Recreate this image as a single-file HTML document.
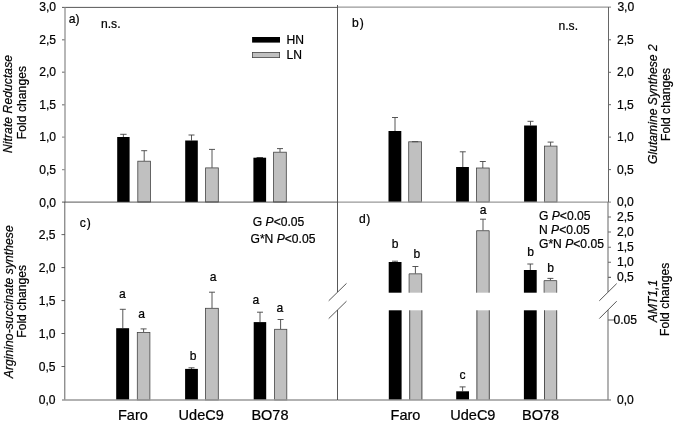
<!DOCTYPE html>
<html>
<head>
<meta charset="utf-8">
<title>Fold changes</title>
<style>
html,body{margin:0;padding:0;background:#fff;}
body{width:675px;height:423px;overflow:hidden;font-family:"Liberation Sans",sans-serif;}
svg{display:block;will-change:transform;}
text{font-family:"Liberation Sans",sans-serif;fill:#000;stroke:#000;stroke-width:0.22px;}
.t{font-size:12.1px;}
.c{font-size:14.5px;}
.i{font-style:italic;}
.bk{fill:#000;}
.gr{fill:#c0c0c0;stroke:#444;stroke-width:0.8;}
.go{stroke:#444;stroke-width:0.8;fill:none;}
.eb{stroke:#444;stroke-width:0.9;fill:none;}
.dk{stroke:#444;stroke-width:0.9;fill:none;}
.lg{stroke:#999;stroke-width:1.4;fill:none;}
.mg{stroke:#666;stroke-width:1;fill:none;}
</style>
</head>
<body>
<svg width="675" height="423" viewBox="0 0 675 423">
<rect width="675" height="423" fill="#fff"/>

<!-- ===== tick labels left ===== -->
<g class="t" text-anchor="end">
  <text x="56" y="11.1">3,0</text>
  <text x="56" y="44">2,5</text>
  <text x="56" y="75.6">2,0</text>
  <text x="56" y="108.6">1,5</text>
  <text x="56" y="141.3">1,0</text>
  <text x="56" y="173.8">0,5</text>
  <text x="56" y="206.5">0,0</text>
  <text x="55.5" y="238.8">2,5</text>
  <text x="55.5" y="271.8">2,0</text>
  <text x="55.5" y="304.8">1,5</text>
  <text x="55.5" y="337.8">1,0</text>
  <text x="55.5" y="370.8">0,5</text>
  <text x="55.5" y="404.2">0,0</text>
</g>
<!-- ===== tick labels right ===== -->
<g class="t">
  <text x="617.4" y="11.1">3,0</text>
  <text x="617" y="44">2,5</text>
  <text x="617" y="75.6">2,0</text>
  <text x="617" y="108.6">1,5</text>
  <text x="617" y="141.3">1,0</text>
  <text x="617" y="173.8">0,5</text>
  <text x="617" y="206.1">0,0</text>
  <text x="617" y="221.2">2,5</text>
  <text x="617" y="235.6">2,0</text>
  <text x="617" y="251.1">1,5</text>
  <text x="617" y="266.1">1,0</text>
  <text x="617" y="281.2">0,5</text>
  <text x="613.5" y="324.2">0.05</text>
  <text x="617" y="404.2">0,0</text>
</g>

<!-- ===== axis titles ===== -->
<g class="t" text-anchor="middle">
  <text class="i" textLength="98" transform="translate(12.4,104) rotate(-90)">Nitrate Reductase</text>
  <text textLength="73.3" transform="translate(26,102.6) rotate(-90)">Fold changes</text>
  <text class="i" textLength="152.9" transform="translate(12.5,301.8) rotate(-90)">Arginino-succinate synthese</text>
  <text textLength="72.9" transform="translate(26,301.3) rotate(-90)">Fold changes</text>
  <text class="i" textLength="119.7" transform="translate(657,104.2) rotate(-90)">Glutamine Synthese 2</text>
  <text textLength="73" transform="translate(670,104.5) rotate(-90)">Fold changes</text>
  <text class="i" transform="translate(656.5,301) rotate(-90)">AMT1,1</text>
  <text textLength="73.2" transform="translate(669.3,299.3) rotate(-90)">Fold changes</text>
</g>

<!-- ===== panel a ===== -->
<g id="pa">
  <text class="t" x="68.7" y="22.9">a)</text>
  <text class="t" x="101" y="27.8">n.s.</text>
  <rect class="bk" x="252.1" y="37" width="27.9" height="5.6"/>
  <rect class="gr" x="252.4" y="52.4" width="27.2" height="5.2"/>
  <text class="t" x="286.5" y="44.2">HN</text>
  <text class="t" x="286.5" y="59.2">LN</text>

  <path class="eb" d="M123.4 137V134.3M120.2 134.3H126.6"/>
  <rect class="bk" x="117.2" y="137" width="12.4" height="65"/>
  <path class="eb" d="M144.2 161V150.7M141.2 150.7H147.2"/>
  <rect class="gr" x="137.8" y="161.2" width="12.6" height="40.8"/>

  <path class="eb" d="M191.5 140.5V135M188.5 135H194.5"/>
  <rect class="bk" x="185.2" y="140.5" width="12.6" height="61.5"/>
  <path class="eb" d="M212 167.8V149.4M209 149.4H215"/>
  <rect class="gr" x="205.6" y="167.9" width="12.7" height="34.1"/>

  <path class="eb" d="M256.6 157.5H263"/>
  <rect class="bk" x="253.4" y="157.7" width="12.7" height="44.3"/>
  <path class="eb" d="M280 152V148.6M277 148.6H283"/>
  <rect class="gr" x="273.6" y="152.2" width="12.7" height="49.8"/>
</g>

<!-- ===== panel b ===== -->
<g id="pb">
  <text class="t" x="352" y="26.7">b<tspan dx="1.1">)</tspan></text>
  <text class="t" x="558.5" y="29.5">n.s.</text>

  <path class="eb" d="M395 131V117.5M392 117.5H398"/>
  <rect class="bk" x="388.5" y="131" width="12.8" height="71"/>
  <rect class="gr" x="408.7" y="141.8" width="12.8" height="60.2"/>
  <path class="eb" d="M412 141.7H418.2"/>

  <path class="eb" d="M462.8 167V151.8M459.8 151.8H465.8"/>
  <rect class="bk" x="456.1" y="167" width="12.8" height="35"/>
  <path class="eb" d="M482.8 168V161.5M479.8 161.5H485.8"/>
  <rect class="gr" x="476.4" y="168" width="12.8" height="34"/>

  <path class="eb" d="M530.5 125.5V121.3M527.5 121.3H533.5"/>
  <rect class="bk" x="524.1" y="125.5" width="12.8" height="76.5"/>
  <path class="eb" d="M550.6 146V142.1M547.6 142.1H553.6"/>
  <rect class="gr" x="544.4" y="146.1" width="12.6" height="55.9"/>
</g>

<!-- ===== panel c ===== -->
<g id="pc">
  <text class="t" x="79.8" y="227.2">c<tspan dx="1">)</tspan></text>
  <text class="t" x="252.8" y="225.6">G <tspan class="i">P</tspan>&lt;0.05</text>
  <text class="t" x="250.5" y="243.4">G*N <tspan class="i">P</tspan>&lt;0.05</text>

  <path class="eb" d="M122.8 328V309.3M119.8 309.3H125.8"/>
  <rect class="bk" x="116.2" y="328.2" width="12.9" height="71.8"/>
  <path class="eb" d="M143.6 332V328.9M140.6 328.9H146.6"/>
  <rect class="gr" x="137.3" y="332.5" width="12.6" height="67.5"/>
  <text class="t" x="119.1" y="298">a</text>
  <text class="t" x="138.3" y="318">a</text>

  <path class="eb" d="M191.5 369V367.8M188.5 367.8H194.5"/>
  <rect class="bk" x="185.1" y="368.9" width="12.8" height="31.1"/>
  <path class="eb" d="M212 308V292.2M209 292.2H215"/>
  <rect class="gr" x="205.5" y="308.3" width="12.8" height="91.7"/>
  <text class="t" x="189.8" y="359.6">b</text>
  <text class="t" x="209.8" y="281.4">a</text>

  <path class="eb" d="M260 322V312.2M257 312.2H263"/>
  <rect class="bk" x="253.7" y="322.1" width="12.5" height="77.9"/>
  <path class="eb" d="M280.6 329V319.5M277.6 319.5H283.6"/>
  <rect class="gr" x="274.6" y="329.3" width="12.2" height="70.7"/>
  <text class="t" x="252.5" y="303.8">a</text>
  <text class="t" x="276.6" y="311.9">a</text>

  <text class="c" x="118" y="420">Faro</text>
  <text class="c" x="178.6" y="420">UdeC9</text>
  <text class="c" x="251.4" y="420">BO78</text>
</g>

<!-- ===== panel d ===== -->
<g id="pd">
  <text class="t" x="358.9" y="223">d<tspan dx="0.6">)</tspan></text>
  <text class="t" x="539" y="220">G <tspan class="i">P</tspan>&lt;0.05</text>
  <text class="t" x="539" y="234.1">N <tspan class="i">P</tspan>&lt;0.05</text>
  <text class="t" x="539" y="247.5">G*N <tspan class="i">P</tspan>&lt;0.05</text>

  <!-- upper segment -->
  <path class="eb" d="M395 262V261.2M392 261.2H398"/>
  <rect class="bk" x="388.7" y="262" width="12.8" height="30.7"/>
  <path class="eb" d="M415.4 273.6V266.5M412.4 266.5H418.4"/>
  <rect fill="#c0c0c0" x="409.1" y="273.8" width="12.6" height="18.899999999999977"/><path class="go" d="M409.1 292.7V273.8H421.70000000000005V292.7"/>
  <text class="t" x="391.7" y="247.9">b</text>
  <text class="t" x="413.6" y="257.6">b</text>

  <path class="eb" d="M483 230.5V219.2M480 219.2H486"/>
  <rect fill="#c0c0c0" x="476.6" y="230.7" width="12.6" height="62.0"/><path class="go" d="M476.6 292.7V230.7H489.20000000000005V292.7"/>
  <text class="t" x="479.8" y="214.1">a</text>

  <path class="eb" d="M530.3 270V264M527.3 264H533.3"/>
  <rect class="bk" x="523.9" y="270" width="12.8" height="22.7"/>
  <path class="eb" d="M550.4 280.4V278.4M547.4 278.4H553.4"/>
  <rect fill="#c0c0c0" x="544.1" y="280.6" width="12.6" height="12.099999999999966"/><path class="go" d="M544.1 292.7V280.6H556.7V292.7"/>
  <text class="t" x="527.2" y="255.7">b</text>
  <text class="t" x="547.3" y="271.6">b</text>

  <!-- lower segment -->
  <rect class="bk" x="388.8" y="310.3" width="12.8" height="89.7"/>
  <rect fill="#c0c0c0" x="409.4" y="310.3" width="12.8" height="89.7"/>
  <path class="eb" d="M409.7 310.3V400M421.9 310.3V400"/>
  <path class="eb" d="M462.6 391.3V386.9M459.6 386.9H465.6"/>
  <rect class="bk" x="456.2" y="391.3" width="12.8" height="8.7"/>
  <text class="t" x="459.4" y="378.5">c</text>
  <rect fill="#c0c0c0" x="476.6" y="310.3" width="13" height="89.7"/>
  <path class="eb" d="M476.9 310.3V400M489.3 310.3V400"/>
  <rect class="bk" x="523.9" y="310.3" width="12.8" height="89.7"/>
  <rect fill="#c0c0c0" x="544.2" y="310.3" width="12.8" height="89.7"/>
  <path class="eb" d="M544.5 310.3V400M556.7 310.3V400"/>

  <text class="c" x="390.6" y="419.9">Faro</text>
  <text class="c" x="450.3" y="419.9">UdeC9</text>
  <text class="c" x="522" y="419.9">BO78</text>
</g>
<!-- ===== frame lines ===== -->
<g id="frame">
  <!-- top line left (dark) and right (light) -->
  <line class="dk" x1="62" y1="7.4" x2="337.5" y2="7.4"/>
  <line class="lg" x1="337.5" y1="7.1" x2="611" y2="7.1"/>
  <!-- left axis -->
  <line class="lg" x1="65" y1="7.4" x2="65" y2="202"/>
  <line x1="64.8" y1="202" x2="64.8" y2="400" style="stroke:#5a5a5a;stroke-width:0.95"/>
  <!-- middle horizontal -->
  <line class="dk" x1="62" y1="202.1" x2="337.5" y2="202.1"/>
  <line class="lg" x1="337.5" y1="202.1" x2="611" y2="202.1"/>
  <!-- bottom axis -->
  <line class="lg" x1="62" y1="400" x2="337.5" y2="400"/>
  <line class="lg" x1="337.5" y1="400" x2="611" y2="400"/>
  <!-- divider -->
  <line class="dk" x1="337.5" y1="5" x2="337.5" y2="292"/>
  <line class="dk" x1="337.5" y1="310" x2="337.5" y2="400"/>
  <!-- right axis -->
  <line class="mg" x1="608.5" y1="7" x2="608.5" y2="202"/>
  <line x1="608" y1="202" x2="608" y2="292" style="stroke:#7a7a7a;stroke-width:1.15"/>
  <line x1="608" y1="310" x2="608" y2="400" style="stroke:#7a7a7a;stroke-width:1.15"/>
  <!-- breaks -->
  <line class="dk" x1="328.7" y1="300.8" x2="346.5" y2="283.4"/>
  <line class="dk" x1="328.7" y1="318.6" x2="346.5" y2="301.2"/>
  <line class="dk" x1="599.3" y1="300.8" x2="616.7" y2="283.6"/>
  <line class="dk" x1="599.3" y1="318.6" x2="616.7" y2="301.2"/>
</g>

<!-- ===== ticks ===== -->
<g id="ticks" class="lg">
  <path d="M62 39.8H65M62 72.3H65M62 104.7H65M62 137.1H65M62 169.6H65"/>
  <path d="M61.5 234.6H65M61.5 267.6H65M61.5 300.6H65M61.5 333.5H65M61.5 366.5H65" style="stroke:#5a5a5a;stroke-width:0.95"/>
</g>
<g class="mg">
  <path d="M608.5 39.8H611M608.5 72.3H611M608.5 104.7H611M608.5 137.1H611M608.5 169.6H611"/>
</g>
<g style="stroke:#6a6a6a;stroke-width:1.1;fill:none">
  <path d="M608 217H611M608 232H611M608 247.3H611M608 262.3H611M608 277.4H611"/>
  <path d="M608 320H614"/>
</g>

</svg>
</body>
</html>
